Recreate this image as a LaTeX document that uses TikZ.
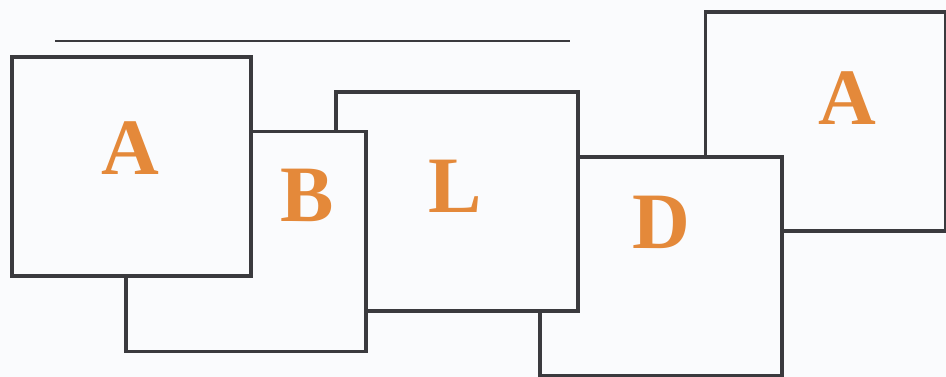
\documentclass[tikz,border=0pt]{standalone}
\usepackage{fontspec}
\setmainfont{Liberation Serif}[BoldFont={Liberation Serif Bold}]
\definecolor{paper}{HTML}{FAFBFD}
\definecolor{ink}{HTML}{3A3A3E}
\definecolor{letter}{HTML}{E4893A}
\begin{document}
\begin{tikzpicture}[x=1pt,y=-1pt,
  card/.style={draw=ink,fill=paper,line width=3.5pt,rectangle,inner sep=0pt,
    minimum width=240pt,minimum height=219pt},
  glyph/.style={text=letter,font=\fontsize{80}{82}\selectfont\bfseries,inner sep=0pt,anchor=base}]
\fill[paper] (0,0) rectangle (946,377);
\useasboundingbox (0,0) rectangle (946,377);
\draw[ink,line width=2.5pt] (55,41) coordinate (l1) -- (570,41) coordinate (l2);
% back to front
\node[card] (boxA2) at (825.5,121.5) {};
\node[glyph] (tA2) at (847,125) {A};
\node[card,minimum width=242pt] (boxD) at (661,266.5) {};
\node[glyph] (tD) at (661,248) {D};
\node[card,minimum width=242pt] (boxL) at (457,201.5) {};
\node[glyph] (tL) at (455,213) {L};
\node[card,minimum height=220pt] (boxB) at (246,241.5) {};
\node[glyph] (tB) at (307,222) {B};
\node[card,minimum width=239pt] (boxA1) at (131.5,166.5) {};
\node[glyph] (tA1) at (130,175) {A};
\end{tikzpicture}
\end{document}
